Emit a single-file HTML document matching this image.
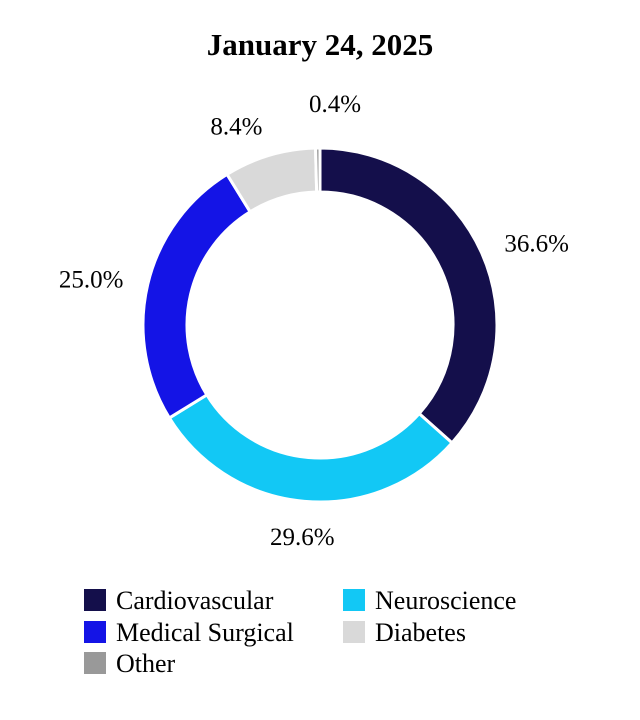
<!DOCTYPE html>
<html><head><meta charset="utf-8"><style>
body{margin:0;background:#fff;}
svg{display:block;font-family:"Liberation Serif",serif;}
</style></head><body>
<svg width="640" height="720">
<text x="320" y="55" text-anchor="middle" font-size="31" font-weight="bold">January 24, 2025</text>
<g id="slices"></g>
<g id="labels"></g>
<g id="legend"></g>
</svg>
<script>
const categories=["Cardiovascular","Neuroscience","Medical Surgical","Diabetes","Other"];
const values=[36.6,29.6,25.0,8.4,0.4];
const valueLabels=["36.6%","29.6%","25.0%","8.4%","0.4%"];
const colors=["#140f4b","#12c8f5","#1414e6","#d9d9d9","#999999"];
const legendOrder=[0,1,2,3,4];
const NS="http://www.w3.org/2000/svg";
const cx=320,cy=325,R=177,r=133,LR=202;
const total=values.reduce((a,b)=>a+b,0);
function pt(rad,a){return [cx+rad*Math.sin(a),cy-rad*Math.cos(a)];}
let a0=0;
const gs=document.getElementById('slices'),gl=document.getElementById('labels');
values.forEach((v,i)=>{
  const a1=a0+v/total*2*Math.PI;
  const [x1,y1]=pt(R,a0),[x2,y2]=pt(R,a1),[x3,y3]=pt(r,a1),[x4,y4]=pt(r,a0);
  const lg=(a1-a0)>Math.PI?1:0;
  const p=document.createElementNS(NS,'path');
  p.setAttribute('d',`M${x1},${y1}A${R},${R} 0 ${lg} 1 ${x2},${y2}L${x3},${y3}A${r},${r} 0 ${lg} 0 ${x4},${y4}Z`);
  p.setAttribute('fill',colors[i]);p.setAttribute('stroke','#fff');p.setAttribute('stroke-width','3');
  
  
  gs.appendChild(p);
  const am=(a0+a1)/2;
  let [lx,ly]=pt(LR,am);
  const s=Math.sin(am);
  let anchor=s>0.2?'start':(s<-0.2?'end':'middle');
  if(v<2){lx=cx+15;ly=cy-LR-20;anchor='middle';}
  else if(Math.cos(am)<-0.5){ly+=10;}
  else if(Math.cos(am)>0.8){ly-=6;}
  const t=document.createElementNS(NS,'text');
  t.setAttribute('x',lx);t.setAttribute('y',ly+9);t.setAttribute('text-anchor',anchor);t.setAttribute('font-size','25');
  t.textContent=valueLabels[i];
  
  
  gl.appendChild(t);
  a0=a1;
});
const leg=document.getElementById('legend');
const lpos=[[84,600],[343,600],[84,632],[343,632],[84,663]];
legendOrder.forEach((ci,k)=>{
  const [x,y]=lpos[k];
  const g=document.createElementNS(NS,'g');
  
  
  const s=document.createElementNS(NS,'rect');
  s.setAttribute('x',x);s.setAttribute('y',y-11);s.setAttribute('width',22);s.setAttribute('height',22);s.setAttribute('fill',colors[ci]);
  const t=document.createElementNS(NS,'text');
  t.setAttribute('x',x+32);t.setAttribute('y',y+9);t.setAttribute('font-size','26');t.textContent=categories[ci];
  g.appendChild(s);g.appendChild(t);leg.appendChild(g);
});
</script>
</body></html>
